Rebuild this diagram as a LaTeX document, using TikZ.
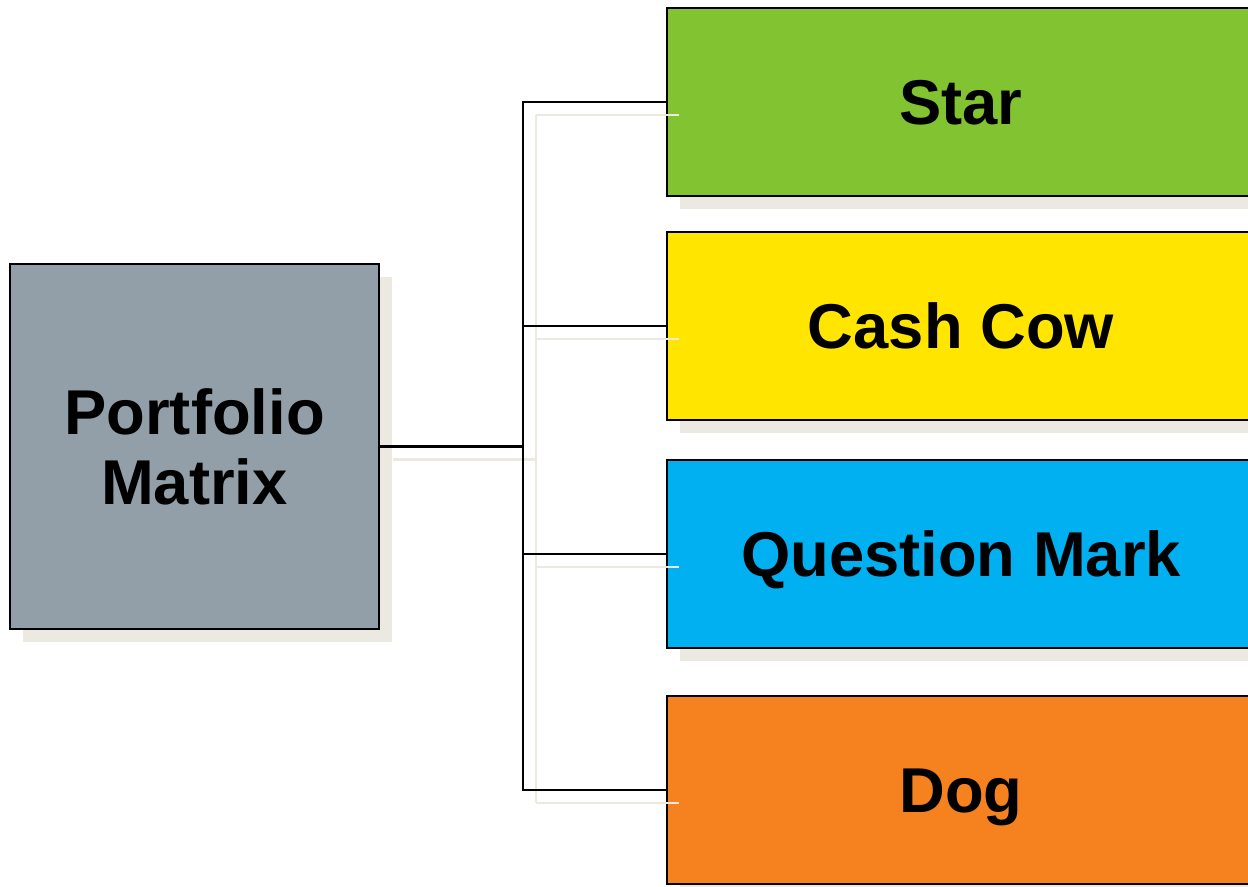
\documentclass[tikz,border=0pt]{standalone}
\usepackage{fontspec}
\setmainfont{Liberation Sans}
\usetikzlibrary{shadows}
\definecolor{pmgrey}{HTML}{939FA8}
\definecolor{stargreen}{HTML}{82C332}
\definecolor{cowyellow}{HTML}{FFE500}
\definecolor{qmblue}{HTML}{00B0F0}
\definecolor{dogorange}{HTML}{F6821F}
\definecolor{shadowc}{HTML}{ECEAE0}
\tikzset{
  boxbase/.style={draw=black, line width=1.5pt, inner sep=0pt, align=center,
    font=\fontsize{47.5}{52.5}\selectfont\bfseries,
    drop shadow={shadow xshift=9.75pt, shadow yshift=-9.75pt, fill=shadowc, opacity=1}},
  catbox/.style={boxbase, minimum width=441pt, minimum height=141pt, text height=34pt, text depth=0pt},
  wire/.style={line width=1.6pt, black},
  shadowwire/.style={line width=2.2pt, shadowc, transform canvas={xshift=9.75pt, yshift=-9.75pt}}
}
\begin{document}
\begin{tikzpicture}[x=0.75pt, y=-0.75pt]
\useasboundingbox (0,0) rectangle (1248,886);
\node[boxbase, fill=pmgrey, minimum width=276.75pt, minimum height=273.75pt] (pm) at (194.5,446.5) {Portfolio\\Matrix};
\node[catbox, fill=stargreen] (star) at (961,102) {Star};
\node[catbox, fill=cowyellow] (cow) at (961,326) {Cash Cow};
\node[catbox, fill=qmblue] (qm) at (961,554) {Question Mark};
\node[catbox, fill=dogorange] (dog) at (961,790) {Dog};
\coordinate (bus) at (523,446.5);
% shadow wires
\draw[shadowwire] (pm.east) -- (bus);
\draw[shadowwire] (bus |- star.west) -- (bus |- dog.west);
\draw[shadowwire] (bus |- star.west) -- (star.west);
\draw[shadowwire] (bus |- cow.west) -- (cow.west);
\draw[shadowwire] (bus |- qm.west) -- (qm.west);
\draw[shadowwire] (bus |- dog.west) -- (dog.west);
% wires
\draw[wire] (pm.east) -- (bus);
\draw[wire] (star.west) -- (bus |- star.west) -- (bus |- dog.west) -- (dog.west);
\draw[wire] (bus |- cow.west) -- (cow.west);
\draw[wire] (bus |- qm.west) -- (qm.west);
\end{tikzpicture}
\end{document}
